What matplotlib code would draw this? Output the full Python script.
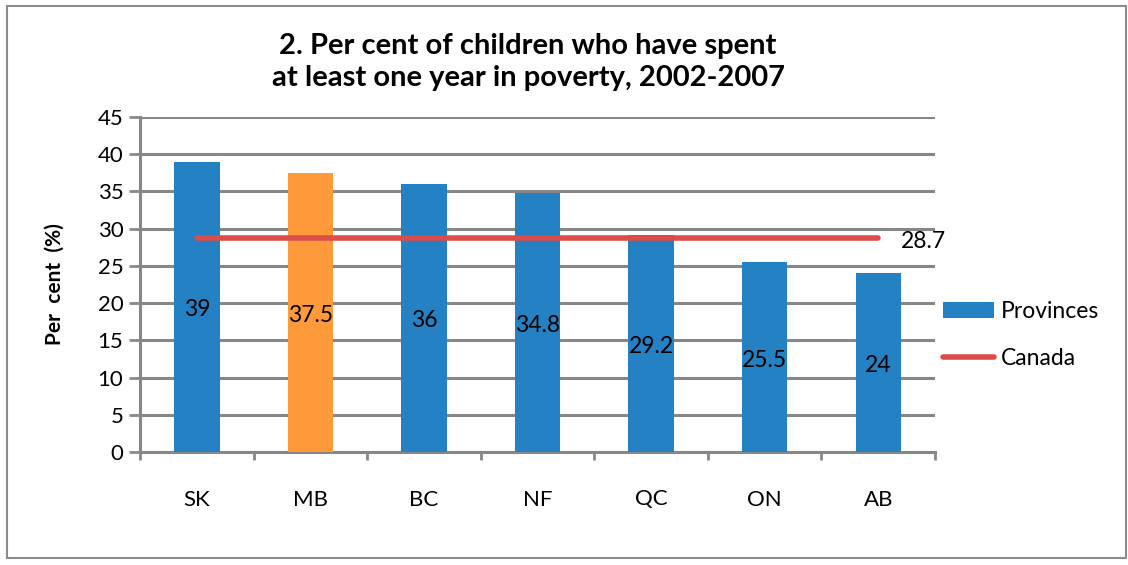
import matplotlib.pyplot as plt
from matplotlib.patches import Rectangle

provinces = ["SK", "MB", "BC", "NF", "QC", "ON", "AB"]
values = [39, 37.5, 36, 34.8, 29.2, 25.5, 24]
canada = 28.7
title = "2. Per cent of children who have spent\nat least one year in poverty, 2002-2007"

blue = "#2481C3"
orange = "#FF9A3B"
red = "#DB4D4A"
grey = "#878787"

plt.rcParams["font.family"] = ["Lato", "DejaVu Sans"]

fig = plt.figure(figsize=(11.28, 5.65), dpi=100)
ax = fig.add_axes([140 / 1128, 1 - 452 / 565, 795 / 1128, 335 / 565])

# outer frame
fig.patches.append(Rectangle((7 / 1128, 7 / 565), 1119 / 1128, 552 / 565,
                             transform=fig.transFigure, fill=False,
                             edgecolor="#8c8c8c", lw=1.5))

x = list(range(len(provinces)))
colors = [orange if p == "MB" else blue for p in provinces]
bars = ax.bar(x, values, width=0.4, color=colors, zorder=3, label="Provinces")
line, = ax.plot([x[0], x[-1]], [canada, canada], color=red, lw=4,
                solid_capstyle="round", zorder=4, label="Canada")

for xi, v in zip(x, values):
    ax.text(xi, v / 2 - 0.4, f"{v:g}", ha="center", va="center", fontsize=16.5, zorder=5)
ax.text(x[-1] + 0.2, canada - 0.4, f"{canada:g}", ha="left", va="center", fontsize=16.5)

ax.set_xlim(-0.5, len(provinces) - 0.5)
ax.set_ylim(0, 45)
ax.set_yticks(range(0, 46, 5))
ax.set_xticks([i - 0.5 for i in range(len(provinces) + 1)])
ax.set_xticklabels([])
ax.set_xticks(x, minor=True)
ax.set_xticklabels(provinces, minor=True)
ax.tick_params(axis="x", which="major", length=6, width=2, color=grey, direction="out")
ax.tick_params(axis="x", which="minor", length=0, pad=27, labelsize=16)
ax.tick_params(axis="y", length=8, width=2, color=grey, labelsize=16, pad=4)
ax.yaxis.grid(True, color=grey, lw=2.2, zorder=0)
for s in ["top", "right"]:
    ax.spines[s].set_visible(False)
for s in ["left", "bottom"]:
    ax.spines[s].set_color(grey)
    ax.spines[s].set_linewidth(2.2)

ax.set_ylabel("Per  cent  (%)", fontsize=15, fontweight="bold", labelpad=24)
fig.text(528 / 1128, 1 - 62 / 565, title, ha="center", va="center",
         fontsize=21, fontweight="bold", linespacing=1.3)

ax.legend([bars, line], ["Provinces", "Canada"], loc="center left",
          bbox_to_anchor=(0.999, 0.35), frameon=False, fontsize=16.5,
          handlelength=2.2, handletextpad=0.3, labelspacing=1.15,
          borderaxespad=0)

fig.savefig("out.png", dpi=100)
